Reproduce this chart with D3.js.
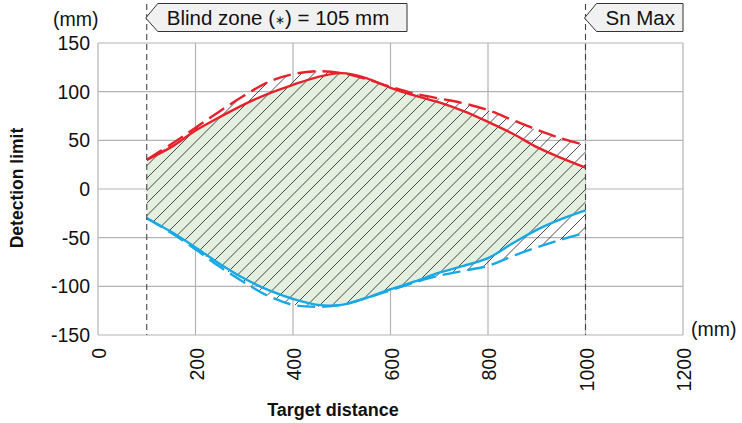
<!DOCTYPE html>
<html>
<head>
<meta charset="utf-8">
<script src="https://cdn.jsdelivr.net/npm/d3@7"></script>
<style>
  body { margin: 0; background: #fff; }
  text { font-family: "Liberation Sans", Arial, sans-serif; }
</style>
</head>
<body>
<script>
  // distance (mm) where each curve is sampled
  const dist = [100, 150, 200, 250, 300, 350, 400, 450, 500, 550, 600, 650, 700, 750, 800, 850, 900, 950, 1000];
  const upperSolid = [30, 43, 60, 74, 87, 98, 107, 115, 119, 114, 104, 96, 89, 80, 69, 57, 43, 32, 22];
  const upperDash  = [30, 46, 63, 80, 96, 110, 118, 121, 119, 113, 105, 98, 93, 88, 81, 71, 61, 52, 45];
  const lowerSolid = [-30, -44, -60, -77, -92, -104, -113, -119, -119, -112, -103, -95, -86, -79, -71, -56, -42, -31, -22];
  const lowerDash  = [-30, -45, -62, -80, -96, -110, -119, -121, -119, -112, -104, -96, -89, -84, -79, -69, -60, -52, -45];
  const xTicks = [0, 200, 400, 600, 800, 1000, 1200];
  const yTicks = [150, 100, 50, 0, -50, -100, -150];
  const blindZone = 100;
  const snMax = 1000;

  const W = 742, H = 423;
  const svg = d3.select('body').append('svg')
    .attr('width', W).attr('height', H);

  const x = d3.scaleLinear().domain([0, 1200]).range([98, 683]);
  const y = d3.scaleLinear().domain([-150, 150]).range([335, 43]);

  const pts = arr => dist.map((d, i) => [d, arr[i]]);

  // grid
  svg.append('g').selectAll('line.h').data(yTicks).enter().append('line')
    .attr('x1', x(0)).attr('x2', x(1200))
    .attr('y1', d => y(d)).attr('y2', d => y(d))
    .attr('stroke', '#b3b3b3').attr('stroke-width', 1.2);
  svg.append('g').selectAll('line.v').data(xTicks).enter().append('line')
    .attr('x1', d => x(d)).attr('x2', d => x(d))
    .attr('y1', y(150)).attr('y2', y(-150))
    .attr('stroke', '#b3b3b3').attr('stroke-width', 1.2);

  const curve = d3.curveCatmullRom.alpha(0.5);

  // green area between the solid curves
  const area = d3.area()
    .x(d => x(d[0]))
    .y0(d => y(d[2]))
    .y1(d => y(d[1]))
    .curve(curve);
  svg.append('path')
    .datum(dist.map((d, i) => [d, upperSolid[i], lowerSolid[i]]))
    .attr('d', area)
    .attr('fill', '#e3efdf');

  // hatch over the dashed envelope
  svg.append('clipPath').attr('id', 'hclip')
    .append('path')
    .datum(dist.map((d, i) => [d, upperDash[i], lowerDash[i]]))
    .attr('d', area);
  const hatch = svg.append('g').attr('clip-path', 'url(#hclip)');
  const step = 12.5;
  for (let c = -400; c < 900; c += step) {
    hatch.append('line')
      .attr('x1', c).attr('y1', 400)
      .attr('x2', c + 400).attr('y2', 0)
      .attr('stroke', '#2a2a2a').attr('stroke-width', 0.85);
  }

  const line = d3.line().x(d => x(d[0])).y(d => y(d[1])).curve(curve);

  svg.append('path').datum(pts(upperDash)).attr('d', line)
    .attr('fill', 'none').attr('stroke', '#e8202a').attr('stroke-width', 2.4)
    .attr('stroke-dasharray', '18,7');
  svg.append('path').datum(pts(lowerDash)).attr('d', line)
    .attr('fill', 'none').attr('stroke', '#19a8e6').attr('stroke-width', 2.4)
    .attr('stroke-dasharray', '18,7');
  svg.append('path').datum(pts(upperSolid)).attr('d', line)
    .attr('fill', 'none').attr('stroke', '#e8202a').attr('stroke-width', 2.4);
  svg.append('path').datum(pts(lowerSolid)).attr('d', line)
    .attr('fill', 'none').attr('stroke', '#19a8e6').attr('stroke-width', 2.4);

  // vertical marker lines
  [blindZone, snMax].forEach(function(v) {
    svg.append('line')
      .attr('x1', x(v)).attr('x2', x(v))
      .attr('y1', 4).attr('y2', y(-150))
      .attr('stroke', '#444').attr('stroke-width', 1.1)
      .attr('stroke-dasharray', '6,4');
  });

  // callout labels
  function callout(v, x1, parts) {
    const x0 = x(v) - 1;
    const p = `M${x0},18 L${x0 + 12},3.5 L${x1},3.5 L${x1},31.5 L${x0 + 12},31.5 Z`;
    svg.append('path').attr('d', p)
      .attr('fill', '#f1f1f1').attr('stroke', '#333').attr('stroke-width', 1);
    const t = svg.append('text')
      .attr('x', x0 + 21).attr('y', 25)
      .attr('font-size', '20.5px').attr('fill', '#111');
    parts.forEach(function(s) {
      t.append('tspan')
        .attr('font-size', s.small ? '12px' : null)
        .attr('dy', s.dy || null)
        .text(s.text);
    });
  }
  callout(blindZone, 407, [
    {text: 'Blind zone ('},
    {text: '\u2217', small: true, dy: -1},
    {text: ') = 105 mm', dy: 1}
  ]);
  callout(snMax, 683, [{text: 'Sn Max'}]);

  // y tick labels
  svg.append('g').selectAll('text').data(yTicks).enter().append('text')
    .attr('x', 90).attr('y', d => y(d) + 7)
    .attr('text-anchor', 'end')
    .attr('font-size', '19.5px').attr('fill', '#111')
    .text(d => d);

  // x tick labels, rotated
  svg.append('g').selectAll('text').data(xTicks).enter().append('text')
    .attr('transform', d => `translate(${x(d) + 8},348) rotate(-90)`)
    .attr('text-anchor', 'end')
    .attr('font-size', '19.5px').attr('fill', '#111')
    .text(d => d);

  svg.append('text').attr('x', 53).attr('y', 26)
    .attr('font-size', '19.5px').attr('fill', '#111').text('(mm)');
  svg.append('text').attr('x', 691).attr('y', 336)
    .attr('font-size', '19.5px').attr('fill', '#111').text('(mm)');

  svg.append('text')
    .attr('x', 333).attr('y', 416)
    .attr('text-anchor', 'middle')
    .attr('font-size', '18px').attr('font-weight', 'bold').attr('fill', '#111')
    .text('Target distance');
  svg.append('text')
    .attr('transform', 'translate(23,188) rotate(-90)')
    .attr('text-anchor', 'middle')
    .attr('font-size', '17.5px').attr('font-weight', 'bold').attr('fill', '#111')
    .text('Detection limit');
</script>
</body>
</html>
